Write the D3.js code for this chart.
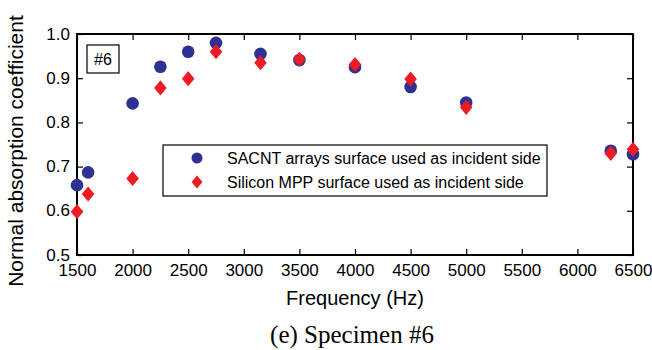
<!DOCTYPE html>
<html>
<head>
  <meta charset="utf-8">
  <title>absorption coefficient</title>
  <script src="https://cdnjs.cloudflare.com/ajax/libs/d3/7.8.5/d3.min.js"></script>
</head>
<style>
  body { margin: 0; background: #fff; }
  svg { display: block; font-family: Arial, "Liberation Sans", Helvetica, sans-serif; }
</style>
<body>
<svg id="chart" width="652" height="350"></svg>
<script>

const freqs = [1500, 1600, 2000, 2250, 2500, 2750, 3150, 3500, 4000, 4500, 5000, 6300, 6500];
const sacnt = [0.658, 0.687, 0.843, 0.926, 0.960, 0.980, 0.955, 0.941, 0.925, 0.880, 0.845, 0.736, 0.728];
const silicon = [0.598, 0.638, 0.673, 0.878, 0.899, 0.960, 0.935, 0.943, 0.931, 0.898, 0.834, 0.730, 0.739];
const xTicks = [1500, 2000, 2500, 3000, 3500, 4000, 4500, 5000, 5500, 6000, 6500];
const yTicks = [0.5, 0.6, 0.7, 0.8, 0.9, 1.0];
const legendLabels = ['SACNT arrays surface used as incident side', 'Silicon MPP surface used as incident side'];

const plotL = 77, plotR = 633, plotT = 34, plotB = 255;
const blue = '#2e3192', red = '#ed1c24';

const svg = d3.select('#chart');
const x = d3.scaleLinear().domain([1500, 6500]).range([plotL, plotR]);
const y = d3.scaleLinear().domain([0.5, 1.0]).range([plotB, plotT]);

// axes, ticks pointing inward on all four sides
const styleAxis = g => {
  g.select('.domain').remove();
  g.selectAll('line').attr('stroke', '#000').attr('stroke-width', 1.2);
  g.selectAll('text').attr('fill', '#000').attr('font-size', 17);
};

svg.append('g').attr('transform', `translate(0,${plotB})`)
  .call(d3.axisBottom(x).tickValues(xTicks).tickFormat(d3.format('d')).tickSizeInner(-6).tickPadding(9))
  .call(styleAxis)
  .call(g => g.selectAll('text').attr('dy', '0.71em').attr('y', 9));

svg.append('g').attr('transform', `translate(0,${plotT})`)
  .call(d3.axisTop(x).tickValues(xTicks).tickSizeInner(-6).tickFormat(''))
  .call(styleAxis);

svg.append('g').attr('transform', `translate(${plotL},0)`)
  .call(d3.axisLeft(y).tickValues(yTicks).tickFormat(d3.format('.1f')).tickSizeInner(-6).tickPadding(8))
  .call(styleAxis)
  .call(g => g.selectAll('text').attr('x', -7).attr('dy', '0.3em'));

svg.append('g').attr('transform', `translate(${plotR},0)`)
  .call(d3.axisRight(y).tickValues(yTicks).tickSizeInner(-6).tickFormat(''))
  .call(styleAxis);

svg.append('rect')
  .attr('x', plotL).attr('y', plotT)
  .attr('width', plotR - plotL).attr('height', plotB - plotT)
  .attr('fill', 'none').attr('stroke', '#000').attr('stroke-width', 2);

// "#6" box
svg.append('rect').attr('x', 87).attr('y', 45).attr('width', 32).attr('height', 28)
  .attr('fill', '#fff').attr('stroke', '#000').attr('stroke-width', 1.2);
svg.append('text').attr('x', 103).attr('y', 65).attr('text-anchor', 'middle')
  .attr('font-size', 16).text('#6');

// legend
svg.append('rect').attr('x', 163).attr('y', 145).attr('width', 384).attr('height', 51)
  .attr('fill', '#fff').attr('stroke', '#000').attr('stroke-width', 1.2);

const diamond = s => `M0,${-s * 1.2}L${s},0L0,${s * 1.2}L${-s},0Z`;

svg.append('circle').attr('cx', 197).attr('cy', 158).attr('r', 5.5).attr('fill', blue);
svg.append('path').attr('transform', 'translate(197,182)').attr('d', diamond(5.5)).attr('fill', red);
legendLabels.forEach((t, i) => {
  svg.append('text').attr('x', 227).attr('y', 164 + i * 23.5).attr('font-size', 16).text(t);
});

// data
svg.append('g').selectAll('circle')
  .data(freqs.map((f, i) => [f, sacnt[i]]))
  .join('circle')
  .attr('cx', d => x(d[0])).attr('cy', d => y(d[1]))
  .attr('r', 6.3).attr('fill', blue);

svg.append('g').selectAll('path')
  .data(freqs.map((f, i) => [f, silicon[i]]))
  .join('path')
  .attr('transform', d => `translate(${x(d[0])},${y(d[1])})`)
  .attr('d', diamond(6.3)).attr('fill', red);

// labels
svg.append('text').attr('x', (plotL + plotR) / 2).attr('y', 305).attr('text-anchor', 'middle')
  .attr('font-size', 20).text('Frequency (Hz)');

svg.append('text').attr('transform', 'translate(23,151) rotate(-90)').attr('text-anchor', 'middle')
  .attr('font-size', 21).text('Normal absorption coefficient');

svg.append('text').attr('x', (plotL + plotR) / 2 - 3).attr('y', 343).attr('text-anchor', 'middle')
  .attr('font-family', '"Times New Roman", "Liberation Serif", serif')
  .attr('font-size', 25).text('(e) Specimen #6');

</script>
</body>
</html>
